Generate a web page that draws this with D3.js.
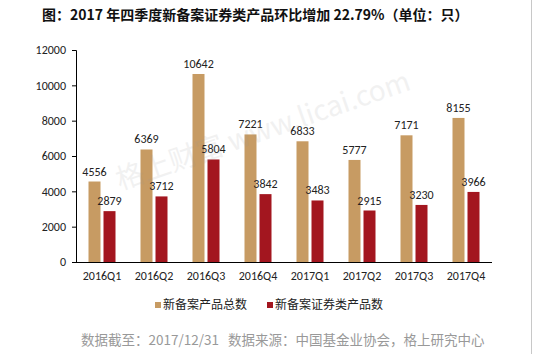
<!DOCTYPE html>
<html>
<head>
<meta charset="utf-8">
<script src="https://cdn.jsdelivr.net/npm/d3@7"></script>
<style>
  body { margin: 0; background: #fff; }
  svg { display: block; }
</style>
</head>
<body>
<div class="chart"></div>
<script>
const W = 536, H = 354;

// data
const quarters = ["2016Q1", "2016Q2", "2016Q3", "2016Q4", "2017Q1", "2017Q2", "2017Q3", "2017Q4"];
const totalNew = [4556, 6369, 10642, 7221, 6833, 5777, 7171, 8155];
const securitiesNew = [2879, 3712, 5804, 3842, 3483, 2915, 3230, 3966];
const seriesNames = ["新备案产品总数", "新备案证券类产品数"];
const yTicks = [0, 2000, 4000, 6000, 8000, 10000, 12000];
const colors = ["#c79b63", "#a3161f"];

const margin = { top: 50, left: 76, right: 44, bottom: 92 };

const svg = d3.select(".chart").append("svg")
    .attr("width", W)
    .attr("height", H);

const x = d3.scaleBand()
    .domain(quarters)
    .range([margin.left, W - margin.right]);

const y = d3.scaleLinear()
    .domain([0, 12000])
    .range([H - margin.bottom, margin.top]);

const cjk = "'Noto Sans CJK SC', 'Noto Sans', sans-serif";
const latin = "Calibri, Carlito, 'Liberation Sans', sans-serif";

// title
svg.append("text")
    .attr("x", 42)
    .attr("y", 20)
    .attr("font-family", cjk)
    .attr("font-weight", "bold")
    .attr("font-size", 14)
    .attr("fill", "#111")
    .text("图：2017 年四季度新备案证券类产品环比增加 22.79%（单位：只）");

// right border line
svg.append("line")
    .attr("x1", 531.5).attr("x2", 531.5)
    .attr("y1", 0).attr("y2", H)
    .attr("stroke", "#c8c8c8");

// y axis
const yAxis = svg.append("g")
    .attr("transform", `translate(${margin.left},0)`)
    .call(d3.axisLeft(y).tickValues(yTicks).tickFormat(d3.format("d")).tickSize(4).tickPadding(6));
yAxis.select(".domain").attr("stroke", "#000");
yAxis.selectAll(".tick line").attr("stroke", "#000");
yAxis.selectAll("text")
    .attr("font-family", latin)
    .attr("font-size", 12)
    .attr("fill", "#222");

// bars
const barW = 12, off = 7.5;
const groups = svg.append("g").selectAll("g")
    .data(quarters)
    .join("g")
    .attr("transform", d => `translate(${x(d) + x.bandwidth() / 2},0)`);

[totalNew, securitiesNew].forEach(function(vals, s) {
    const dx = s === 0 ? -off : off;
    groups.append("rect")
        .attr("x", dx - barW / 2)
        .attr("y", (d, i) => y(vals[i]))
        .attr("width", barW)
        .attr("height", (d, i) => y(0) - y(vals[i]))
        .attr("fill", colors[s]);
    groups.append("text")
        .attr("x", dx)
        .attr("y", (d, i) => y(vals[i]) - 6)
        .attr("text-anchor", "middle")
        .attr("font-family", latin)
        .attr("font-size", 12)
        .attr("fill", "#222")
        .text((d, i) => vals[i]);
});

// x axis
const xAxis = svg.append("g")
    .attr("transform", `translate(0,${y(0)})`)
    .call(d3.axisBottom(x).tickSize(0).tickPadding(9));
xAxis.select(".domain").attr("stroke", "#000").attr("d", `M${margin.left},0.5H${W - margin.right}`);
xAxis.selectAll("text")
    .attr("font-family", latin)
    .attr("font-size", 12)
    .attr("fill", "#222");

// watermark
svg.append("text")
    .attr("transform", "translate(120,190) rotate(-19)")
    .attr("font-family", cjk)
    .attr("font-size", 28)
    .attr("fill", "#999")
    .attr("opacity", 0.13)
    .text("格上财富  www.licai.com");

// legend
const legendX = [155, 267];
const legend = svg.append("g").selectAll("g")
    .data(seriesNames)
    .join("g")
    .attr("transform", (d, i) => `translate(${legendX[i]},305)`);
legend.append("rect")
    .attr("x", 0).attr("y", -3)
    .attr("width", 6).attr("height", 6)
    .attr("fill", (d, i) => colors[i]);
legend.append("text")
    .attr("x", 8)
    .attr("y", 0)
    .attr("dy", "0.36em")
    .attr("font-family", cjk)
    .attr("font-size", 12)
    .attr("fill", "#222")
    .text(d => d);

// footer
svg.append("text")
    .attr("x", 81)
    .attr("y", 345)
    .attr("font-family", cjk)
    .attr("font-size", 13.5)
    .attr("fill", "#999")
    .attr("xml:space", "preserve")
    .text("数据截至：2017/12/31   数据来源：中国基金业协会，格上研究中心");
</script>
</body>
</html>
